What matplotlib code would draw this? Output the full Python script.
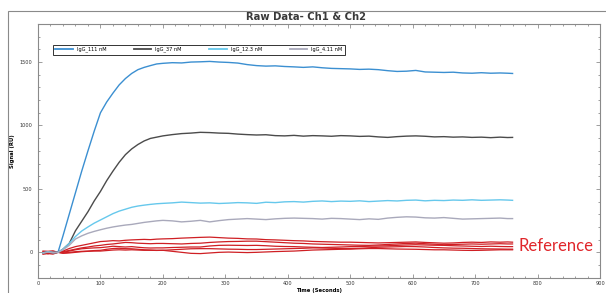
import numpy as np
import matplotlib
matplotlib.use('Agg')
import matplotlib.pyplot as plt
from matplotlib.patches import Rectangle
from matplotlib.ticker import MultipleLocator

plt.rcParams['font.family'] = ['DejaVu Sans']

#%% data
t = [8, 16, 24, 32, 40, 50, 60, 70, 80, 90, 100, 110, 120, 130, 140, 150, 160, 170, 180, 190, 200,
     215, 230, 245, 260, 275, 290, 305, 320, 335, 350, 365, 380, 395, 410, 425, 440, 455, 470, 485, 500,
     515, 530, 545, 560, 575, 590, 605, 620, 635, 650, 665, 680, 695, 710, 725, 740, 752, 760]

igg_111 = [-5, 3, -2, 0, 130, 300, 470, 640, 800, 955, 1100, 1185, 1255, 1320, 1370, 1410, 1440, 1458, 1472, 1485, 1490,
           1495, 1493, 1500, 1502, 1505, 1500, 1497, 1492, 1480, 1472, 1468, 1470, 1465, 1462, 1458, 1462, 1455, 1450, 1448, 1446,
           1442, 1444, 1440, 1432, 1426, 1428, 1434, 1422, 1420, 1418, 1420, 1414, 1412, 1416, 1412, 1414, 1412, 1410]
igg_37 = [-4, 2, -3, 0, 25, 70, 170, 245, 320, 405, 480, 565, 640, 710, 770, 815, 850, 878, 898, 908, 918,
          928, 936, 940, 946, 944, 940, 938, 932, 928, 925, 927, 920, 918, 922, 916, 920, 918, 915, 920, 918,
          914, 916, 910, 906, 912, 916, 918, 915, 910, 912, 908, 910, 906, 908, 904, 908, 905, 906]
igg_12_3 = [-3, 4, -1, 0, 25, 70, 125, 168, 200, 230, 255, 280, 305, 325, 340, 355, 365, 372, 378, 383, 386,
            390, 396, 392, 388, 390, 385, 388, 392, 390, 386, 395, 392, 398, 400, 396, 402, 405, 400, 404, 402,
            406, 400, 404, 408, 405, 410, 412, 406, 410, 408, 412, 410, 414, 410, 412, 414, 412, 410]
igg_4_11 = [-6, 2, -4, 0, 20, 55, 105, 130, 150, 165, 178, 190, 200, 208, 215, 220, 228, 236, 242, 248, 252,
            248, 240, 245, 252, 240, 250, 258, 262, 266, 262, 258, 264, 268, 270, 268, 266, 262, 268, 266, 262,
            258, 264, 260, 270, 276, 280, 278, 272, 270, 274, 268, 262, 264, 266, 268, 270, 266, 266]

ref_1 = [10, 8, 12, 0, 10, 30, 45, 55, 65, 75, 85, 88, 92, 90, 95, 98, 100, 102, 100, 104, 106,
         108, 112, 115, 118, 120, 116, 112, 110, 106, 105, 100, 98, 95, 92, 90, 86, 84, 82, 80, 80,
         78, 76, 74, 76, 78, 80, 82, 78, 75, 72, 74, 78, 80, 78, 82, 80, 82, 80]
ref_2 = [-10, -5, -8, 0, 5, 15, 25, 35, 42, 50, 55, 62, 66, 72, 78, 76, 72, 70, 68, 70, 70,
         68, 66, 70, 72, 78, 82, 85, 86, 88, 88, 84, 80, 76, 72, 70, 66, 64, 62, 60, 58,
         56, 55, 58, 62, 66, 70, 72, 68, 64, 60, 62, 64, 66, 64, 66, 68, 66, 66]
ref_3 = [5, -12, 3, 0, 0, 10, 20, 28, 32, 35, 37, 42, 48, 45, 42, 45, 40, 36, 34, 35, 35,
         38, 40, 42, 42, 50, 55, 56, 55, 54, 55, 52, 48, 46, 45, 42, 40, 38, 40, 42, 45,
         46, 48, 50, 52, 55, 58, 60, 58, 56, 55, 52, 50, 48, 46, 48, 46, 45, 45]
ref_4 = [-15, -10, -14, 0, -5, 0, 5, 8, 10, 14, 16, 24, 30, 32, 29, 28, 24, 20, 18, 16, 16,
         20, 24, 28, 29, 29, 27, 25, 24, 22, 22, 24, 26, 28, 30, 32, 35, 34, 32, 30, 30,
         32, 36, 40, 42, 44, 46, 45, 42, 38, 35, 33, 32, 30, 28, 27, 26, 25, 25]
ref_5 = [0, 6, -6, 0, -8, -5, 0, 5, 8, 10, 10, 14, 18, 20, 18, 20, 18, 16, 16, 15, 16,
         8, 0, -8, -10, -5, 0, 2, 0, -2, 0, 3, 6, 8, 10, 14, 18, 20, 22, 24, 25,
         28, 30, 30, 28, 26, 25, 24, 22, 20, 20, 18, 16, 15, 16, 18, 20, 20, 20]

labels = ['IgG_111 nM', 'IgG_37 nM', 'IgG_12.3 nM', 'IgG_4.11 nM']
colors = ['#3b8fd1', '#4b4b4b', '#66c8ec', '#a9a9bb']
ref_color = '#cf1f24'

#%% plot
fig = plt.figure(figsize=(6.06, 2.93), dpi=100)
ax = fig.add_axes([38/606, 1-277.7/293, 562/606, 253.7/293])

# outer frame of the exported panel
fig.patches.append(Rectangle((8/606, -0.2), 1.1, 1.2-11/293, transform=fig.transFigure,
                             fill=False, edgecolor='#8a8a8a', linewidth=0.8))

for ys in [ref_1, ref_2, ref_3, ref_4, ref_5]:
    ax.plot(t, ys, color=ref_color, linewidth=0.9)

series = [igg_111, igg_37, igg_12_3, igg_4_11]
for i in range(4):
    ax.plot(t, series[i], color=colors[i], linewidth=1.0, label=labels[i])

ax.set_xlim(0, 900)
ax.set_ylim(-200, 1800)
ax.xaxis.set_major_locator(MultipleLocator(100))
ax.xaxis.set_minor_locator(MultipleLocator(20))
ax.set_yticks([0, 500, 1000, 1500])
ax.yaxis.set_minor_locator(MultipleLocator(100))

ax.tick_params(which='both', direction='in', top=True, right=True, colors='#777777',
               labelcolor='#333333', labelsize=3.6, width=0.5)
ax.tick_params(which='major', length=3)
ax.tick_params(which='minor', length=1.6)
ax.tick_params(axis='x', pad=2.5)
ax.tick_params(axis='y', pad=4)
for s in ax.spines.values():
    s.set_color('#8a8a8a')
    s.set_linewidth(0.8)

ax.set_ylabel('Signal (RU)', fontsize=3.8, fontweight='bold', labelpad=3)
ax.set_xlabel('Time (Seconds)', fontsize=3.8, fontweight='bold', labelpad=1.5)
fig.text(306/606, 1-17/293, 'Raw Data- Ch1 & Ch2', fontsize=7.2, fontweight='bold',
         color='#3a3a3a', ha='center', va='center')

leg = ax.legend(loc='upper left', bbox_to_anchor=(15/562, 1-20.5/253.7), ncol=4,
                fontsize=3.6, frameon=True, fancybox=False, edgecolor='black',
                handlelength=3.5, handletextpad=0.8, columnspacing=5.5, borderpad=0.45,
                borderaxespad=0)
leg.get_frame().set_linewidth(0.7)
for h in leg.get_lines():
    h.set_linewidth(1.3)

fig.text(556/606, 1-246/293, 'Reference', fontsize=12, color='#e0262b',
         family=['Lato', 'DejaVu Sans'], ha='center', va='center')

plt.savefig('out.png', dpi=100)
